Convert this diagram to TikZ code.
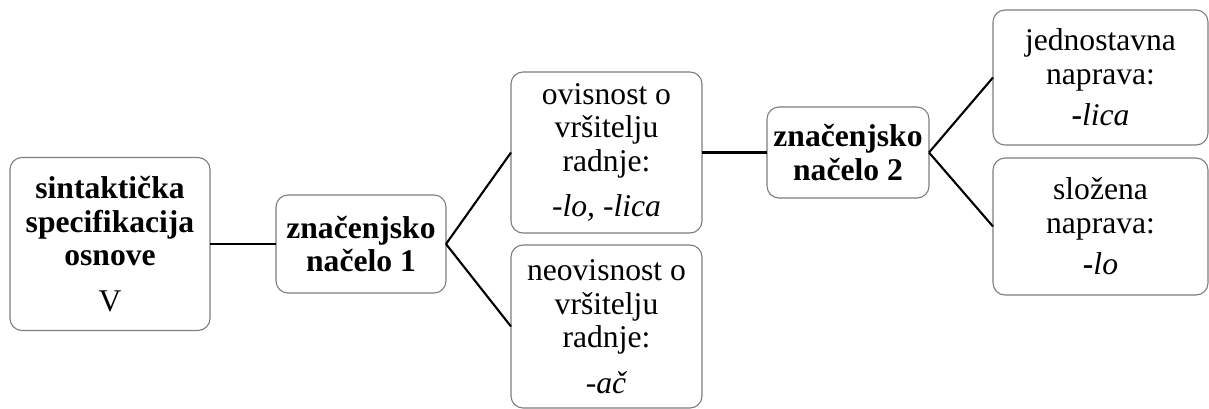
\documentclass[tikz,border=0pt]{standalone}
\usepackage{fontspec}
\setmainfont{Liberation Serif}
\usepackage{tikz}
\definecolor{boxGray}{RGB}{125,125,125}
\tikzstyle{boxStyle}=[shape = rectangle, rounded corners = 12pt, draw = boxGray, line width = 1.1pt, inner sep = 0pt, outer sep = 0pt, align = center, font = \fontsize{31.6}{33.5}\selectfont]
\tikzstyle{edgeStyle}=[line width = 2.1pt, black]

\begin{document}
\begin{tikzpicture}[x = 1pt, y = -1pt]
\useasboundingbox (0,0) rectangle (1209,409);
\node[boxStyle, minimum width = 200pt, minimum height = 173pt] (v0) at (110,244)
  {\textbf{sintaktička}\\\textbf{specifikacija}\\\textbf{osnove}\\[12pt]V};
\node[boxStyle, minimum width = 170pt, minimum height = 98pt] (v1) at (361,244)
  {\textbf{značenjsko}\\\textbf{načelo 1}};
\node[boxStyle, minimum width = 191pt, minimum height = 161pt] (v2) at (606.5,152.5)
  {ovisnost o\\vršitelju\\radnje:\\[12pt]\textit{-lo, -lica}};
\node[boxStyle, minimum width = 191pt, minimum height = 163pt] (v3) at (606.5,326.5)
  {neovisnost o\\vršitelju\\radnje:\\[12pt]\textit{-ač}};
\node[boxStyle, minimum width = 162pt, minimum height = 91pt] (v4) at (848,152.5)
  {\textbf{značenjsko}\\\textbf{načelo 2}};
\node[boxStyle, minimum width = 215pt, minimum height = 135pt] (v5) at (1100.5,77.5)
  {jednostavna\\naprava:\\[8pt]\textbf{-}\textit{lica}};
\node[boxStyle, minimum width = 215pt, minimum height = 137pt] (v6) at (1100.5,226.5)
  {složena\\naprava:\\[8pt]\textbf{-}\textit{lo}};
\draw[edgeStyle] (v0.east) -- (v1.west);
\draw[edgeStyle] (v1.east) -- (v2.west);
\draw[edgeStyle] (v1.east) -- (v3.west);
\draw[edgeStyle] (v2.east) -- (v4.west);
\draw[edgeStyle] (v4.east) -- (v5.west);
\draw[edgeStyle] (v4.east) -- (v6.west);
\end{tikzpicture}
\end{document}
